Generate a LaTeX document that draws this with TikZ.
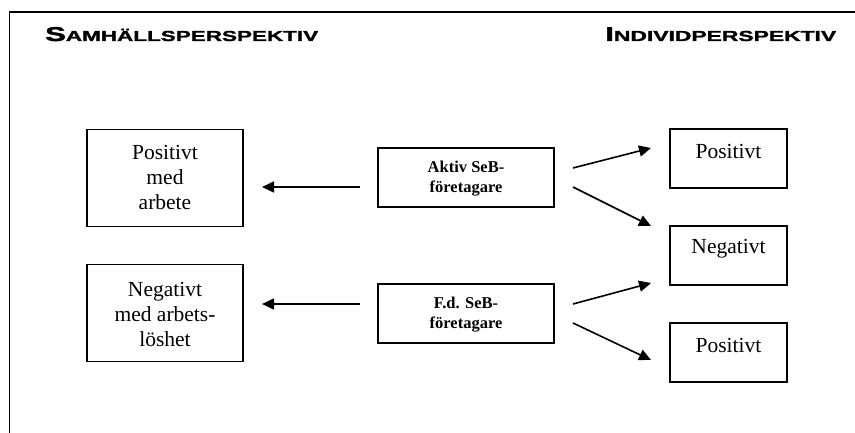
\documentclass[tikz,border=0pt]{standalone}
\usepackage{fontspec}
\setmainfont{Liberation Serif}
\newfontfamily\headfont[FakeBold=1.5]{Liberation Sans Bold}
\usetikzlibrary{arrows.meta}
\newcommand\headcaps[3]{\resizebox{#3}{\height}{\headfont{\fontsize{20}{20}\selectfont #1}{\fontsize{14.5}{15}\selectfont #2}}}
\begin{document}
\begin{tikzpicture}[x=1pt,y=-1pt,
  box/.style={draw,line width=1.3pt,rectangle,inner sep=0pt},
  bigtxt/.style={font=\fontsize{21.5}{25}\selectfont,align=center,inner sep=0pt},
  boldtxt/.style={font=\fontsize{16.5}{20}\selectfont\bfseries,align=center,inner sep=0pt},
  head/.style={inner sep=0pt,anchor=base west},
  arr/.style={line width=1.6pt,-{Triangle[length=12pt,width=11pt]}}]
\useasboundingbox (0,0) rectangle (855,433);
% frame
\coordinate (fa) at (9.5,433);
\coordinate (fb) at (9.5,12);
\coordinate (fc) at (855,12);
\draw[line width=1.5pt] (fa) -- (fb) -- (fc);
% headings
\node[head] (h1) at (45,41) {\headcaps{S}{AMHÄLLSPERSPEKTIV}{273pt}};
\node[head] (h2) at (605,41) {\headcaps{I}{NDIVIDPERSPEKTIV}{231pt}};
% left boxes
\node[box,minimum width=156pt,minimum height=97pt] (L1) at (165,177.7) {};
\node[bigtxt] (L1t) at (L1.center) {Positivt\\med\\arbete};
\node[box,minimum width=156pt,minimum height=97pt] (L2) at (165,313.3) {};
\node[bigtxt] (L2t) at ([yshift=-1pt]L2.center) {Negativt\\med arbets-\\löshet};
% middle boxes
\node[box,minimum width=176pt,minimum height=59pt] (M1) at (466,177.5) {};
\node[boldtxt] (M1t) at ([yshift=-1pt]M1.center) {Aktiv SeB-\\företagare};
\node[box,minimum width=176pt,minimum height=59pt] (M2) at (466,313.5) {};
\node[boldtxt] (M2t) at ([yshift=-1pt]M2.center) {F.d. SeB-\\företagare};
% right boxes
\node[box,minimum width=117pt,minimum height=59pt] (R1) at (728.5,158.5) {};
\node[bigtxt] (R1t) at ([yshift=7pt]R1.center) {Positivt};
\node[box,minimum width=117pt,minimum height=59pt] (R2) at (728.5,255.5) {};
\node[bigtxt] (R2t) at ([yshift=7pt]R2.center) {Negativt};
\node[box,minimum width=117pt,minimum height=59pt] (R3) at (728.5,352.5) {};
\node[bigtxt] (R3t) at ([yshift=7pt]R3.center) {Positivt};
% arrow end points
\coordinate (m1w) at (360,187);
\coordinate (l1e) at (262,187);
\coordinate (m2w) at (360,304);
\coordinate (l2e) at (262,304);
\coordinate (m1a) at (573,168);
\coordinate (r1w) at (651,148);
\coordinate (m1b) at (573,187);
\coordinate (r2a) at (651,226);
\coordinate (m2a) at (573,304);
\coordinate (r2b) at (651,283);
\coordinate (m2b) at (573,323);
\coordinate (r3w) at (651,360);
\draw[arr] (m1w) -- (l1e);
\draw[arr] (m2w) -- (l2e);
\draw[arr] (m1a) -- (r1w);
\draw[arr] (m1b) -- (r2a);
\draw[arr] (m2a) -- (r2b);
\draw[arr] (m2b) -- (r3w);
\end{tikzpicture}
\end{document}
